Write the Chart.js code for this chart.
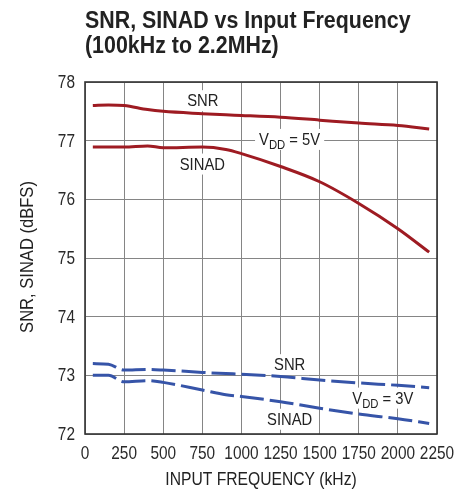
<!DOCTYPE html>
<html>
<head>
<meta charset="utf-8">
<script src="https://cdn.jsdelivr.net/npm/chart.js@4.4.1/dist/chart.umd.min.js"></script>
<style>
  html, body { margin: 0; padding: 0; background: #fff; }
  #wrap { position: relative; width: 459px; height: 494px; }
</style>
</head>
<body>
<div id="wrap"><canvas id="chart" width="459" height="494"></canvas></div>
<script>
// input frequency (kHz)
const freqKHz = [50, 150, 250, 400, 500, 750, 900, 1000, 1250, 1500, 1750, 2000, 2200];
// VDD = 5V
const snr5 = [77.60, 77.61, 77.60, 77.53, 77.50, 77.46, 77.44, 77.43, 77.40, 77.35, 77.30, 77.26, 77.20];
const sinad5 = [76.89, 76.89, 76.89, 76.91, 76.88, 76.89, 76.85, 76.78, 76.56, 76.30, 75.93, 75.50, 75.10];
// VDD = 3V
const snr3 = [73.20, 73.19, 73.09, 73.10, 73.09, 73.05, 73.03, 73.02, 72.98, 72.92, 72.87, 72.83, 72.79];
const sinad3 = [73.00, 73.00, 72.89, 72.91, 72.88, 72.75, 72.67, 72.64, 72.55, 72.44, 72.34, 72.26, 72.18];

const xTicks = [0, 250, 500, 750, 1000, 1250, 1500, 1750, 2000, 2250];
const yTicks = [72, 73, 74, 75, 76, 77, 78];

const RED = '#9e1b22';
const BLUE = '#3654a8';
const FONT = "'Liberation Sans', Arial, sans-serif";

const pts = vals => vals.map((v, i) => ({ x: freqKHz[i], y: v }));

// text labels, centre given in data coordinates
const notes = [
  { text: 'SNR', x: 753, y: 77.69 },
  { text: 'SINAD', x: 750, y: 76.61 },
  { text: 'V', sub: 'DD', rest: ' = 5V', x: 1308, y: 77.03 },
  { text: 'SNR', x: 1308, y: 73.19 },
  { text: 'V', sub: 'DD', rest: ' = 3V', x: 1904, y: 72.62 },
  { text: 'SINAD', x: 1308, y: 72.26 }
];

// draw a run of [text, size, dy] pieces squeezed horizontally (fake condensed face)
function squeezed(ctx, parts, x, y, align, sq, weight) {
  let w = 0;
  parts.forEach(p => { ctx.font = (weight || '') + ' ' + p[1] + 'px ' + FONT; p.w = ctx.measureText(p[0]).width; w += p.w; });
  ctx.save();
  ctx.translate(x, y);
  ctx.scale(sq, 1);
  let cx = align === 'center' ? -w / 2 : align === 'right' ? -w : 0;
  ctx.textAlign = 'left';
  ctx.textBaseline = 'alphabetic';
  parts.forEach(p => {
    ctx.font = (weight || '') + ' ' + p[1] + 'px ' + FONT;
    ctx.fillText(p[0], cx, p[2] || 0);
    cx += p.w;
  });
  ctx.restore();
  return w * sq;
}

const labelPlugin = {
  id: 'labels',
  beforeDatasetsDraw(chart) {
    const ctx = chart.ctx;
    const xs = chart.scales.x, ys = chart.scales.y;
    const sq = 0.87;
    ctx.save();
    notes.forEach(n => {
      const cx = xs.getPixelForValue(n.x);
      const cy = ys.getPixelForValue(n.y);
      const parts = n.sub ? [[n.text, 17], [n.sub, 13, 4], [n.rest, 17]] : [[n.text, 17]];
      let w = 0;
      parts.forEach(p => { ctx.font = p[1] + 'px ' + FONT; w += ctx.measureText(p[0]).width; });
      w *= sq;
      ctx.fillStyle = '#fff';
      ctx.fillRect(cx - w / 2 - 4, cy - 10, w + 8, 21);
      ctx.fillStyle = '#222';
      squeezed(ctx, parts, cx, cy + 6, 'center', sq);
    });
    ctx.restore();
  },
  afterDraw(chart) {
    const ctx = chart.ctx;
    const a = chart.chartArea;
    const xs = chart.scales.x, ys = chart.scales.y;
    ctx.save();
    ctx.strokeStyle = '#333';
    ctx.lineWidth = 1.6;
    ctx.strokeRect(a.left, a.top, a.right - a.left, a.bottom - a.top);
    ctx.fillStyle = '#2a2a2a';
    // tick labels from the scales
    xs.ticks.forEach((t, i) => {
      squeezed(ctx, [[String(t.value), 17.5]], xs.getPixelForTick(i), a.bottom + 25, 'center', 0.88);
    });
    ys.ticks.forEach((t, i) => {
      squeezed(ctx, [[String(t.value), 17.5]], a.left - 10, ys.getPixelForTick(i) + 6, 'right', 0.88);
    });
    ctx.fillStyle = '#222';
    // chart title
    squeezed(ctx, [['SNR, SINAD vs Input Frequency', 23]], 85, 28, 'left', 0.93, 'bold');
    squeezed(ctx, [['(100kHz to 2.2MHz)', 23]], 85, 53, 'left', 0.93, 'bold');
    // axis titles
    squeezed(ctx, [['INPUT FREQUENCY (kHz)', 18]], (a.left + a.right) / 2, 485, 'center', 0.87);
    ctx.save();
    ctx.translate(33, 257);
    ctx.rotate(-Math.PI / 2);
    squeezed(ctx, [['SNR, SINAD (dBFS)', 18]], 0, 0, 'center', 0.92);
    ctx.restore();
    ctx.restore();
  }
};

new Chart(document.getElementById('chart'), {
  type: 'line',
  data: {
    datasets: [
      { label: 'SNR 5V', data: pts(snr5), borderColor: RED, borderWidth: 3 },
      { label: 'SINAD 5V', data: pts(sinad5), borderColor: RED, borderWidth: 3 },
      { label: 'SNR 3V', data: pts(snr3), borderColor: BLUE, borderWidth: 3, borderDash: [24, 6] },
      { label: 'SINAD 3V', data: pts(sinad3), borderColor: BLUE, borderWidth: 3, borderDash: [24, 6] }
    ]
  },
  options: {
    responsive: false,
    animation: false,
    layout: { padding: { top: 82, right: 22, bottom: 60, left: 4 } },
    elements: {
      point: { radius: 0 },
      line: { tension: 0.4, cubicInterpolationMode: 'monotone', fill: false }
    },
    plugins: { legend: { display: false }, tooltip: { enabled: false } },
    scales: {
      x: {
        type: 'linear', min: 0, max: 2250,
        afterBuildTicks: s => { s.ticks = xTicks.map(v => ({ value: v })); },
        afterFit: s => { s.height = 0; },
        grid: { color: '#858585', lineWidth: 1, drawTicks: false },
        border: { display: false },
        ticks: { display: false }
      },
      y: {
        type: 'linear', min: 72, max: 78,
        afterBuildTicks: s => { s.ticks = yTicks.map(v => ({ value: v })); },
        afterFit: s => { s.width = 81; },
        grid: { color: '#858585', lineWidth: 1, drawTicks: false },
        border: { display: false },
        ticks: { display: false }
      }
    }
  },
  plugins: [labelPlugin]
});
</script>
</body>
</html>
